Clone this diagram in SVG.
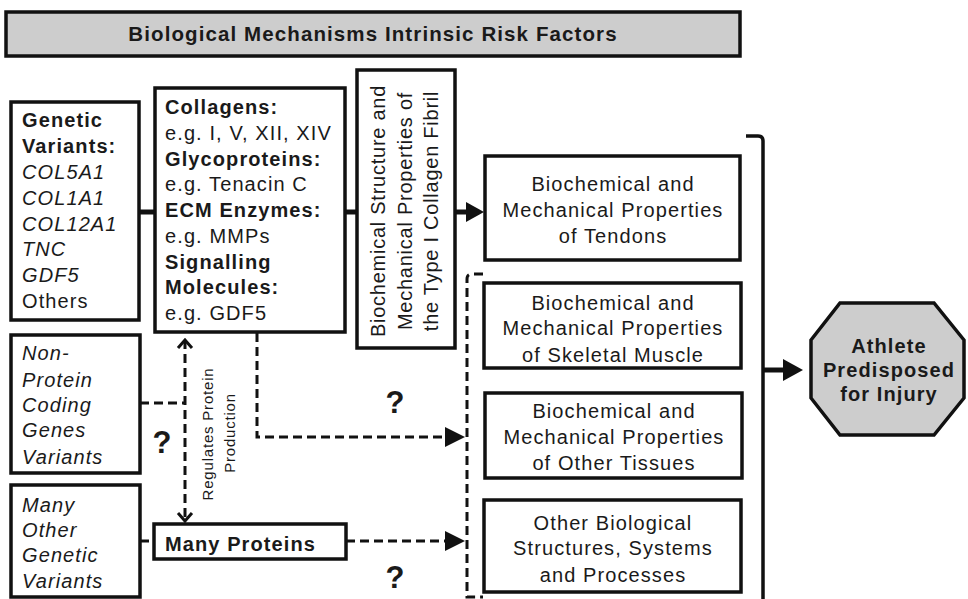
<svg xmlns="http://www.w3.org/2000/svg" width="968" height="599" viewBox="0 0 968 599">
<defs>
<style>
.box{fill:#fff;stroke:#111;stroke-width:3.5}
.gray{fill:#cdcdcd;stroke:#111;stroke-width:3.5}
text{font-family:"Liberation Sans",Arial,Helvetica,sans-serif;font-size:20px;letter-spacing:1.1px;fill:#1a1a1a}
.b{font-weight:bold}
.i{font-style:italic}
.c{text-anchor:middle}
.v{letter-spacing:0.75px}
.s{font-size:15px;letter-spacing:0.8px}
.q{font-size:31px;font-weight:bold;letter-spacing:0;text-anchor:middle}
.solid{stroke:#111;stroke-width:5;fill:none}
.thin{stroke:#111;stroke-width:3.5;fill:none}
.dash{stroke:#111;stroke-width:3;fill:none;stroke-dasharray:9 5}
</style>
<marker id="head" markerUnits="userSpaceOnUse" viewBox="0 0 18 20" markerWidth="18" markerHeight="20" refX="0" refY="10" orient="auto">
<path d="M0,0 L18,10 L0,20 z" fill="#111"/>
</marker>
<marker id="headBig" markerUnits="userSpaceOnUse" viewBox="0 0 20 22" markerWidth="20" markerHeight="22" refX="0" refY="11" orient="auto">
<path d="M0,0 L20,11 L0,22 z" fill="#111"/>
</marker>
<marker id="headDash" markerUnits="userSpaceOnUse" viewBox="0 0 20 20" markerWidth="20" markerHeight="20" refX="0" refY="10" orient="auto">
<path d="M0,0 L20,10 L0,20 z" fill="#111"/>
</marker>
<marker id="chev" markerUnits="userSpaceOnUse" viewBox="-10 -10 12 20" markerWidth="12" markerHeight="20" refX="0" refY="0" orient="auto-start-reverse">
<path d="M-8,-7 L0,0 L-8,7" fill="none" stroke="#111" stroke-width="3"/>
</marker>
</defs>

<g id="connectors">
<line class="solid" x1="139" y1="212" x2="155" y2="212"/>
<line class="solid" x1="345" y1="212" x2="357" y2="212"/>
<line class="solid" x1="455" y1="212" x2="466" y2="212" marker-end="url(#head)"/>
<path class="thin" d="M746,136 H758 Q763,136 763,141 V610"/>
<line class="solid" x1="763" y1="370" x2="783" y2="370" marker-end="url(#headBig)"/>
<path class="dash" d="M483,274 H472 Q467,274 467,279 V597 H483"/>
<path class="dash" d="M257,333 V437 H445" marker-end="url(#headDash)"/>
<path class="dash" d="M346,541 H445" marker-end="url(#headDash)"/>
<path class="dash" d="M140,541 H154"/>
<path class="dash" d="M140,403 H185"/>
<path class="dash" d="M185,340 V521" marker-start="url(#chev)" marker-end="url(#chev)"/>
</g>

<g id="title">
<rect class="gray" x="6" y="12" width="734" height="44"/>
<text class="b c" x="373" y="41" style="font-size:20.5px">Biological Mechanisms Intrinsic Risk Factors</text>
</g>

<g id="genetic-variants">
<rect class="box" x="11" y="102" width="128" height="218"/>
<text class="b" x="22" y="127">Genetic</text>
<text class="b" x="22" y="153">Variants:</text>
<text class="i" x="22" y="179">COL5A1</text>
<text class="i" x="22" y="205">COL1A1</text>
<text class="i" x="22" y="231">COL12A1</text>
<text class="i" x="22" y="256">TNC</text>
<text class="i" x="22" y="282">GDF5</text>
<text x="22" y="308">Others</text>
</g>

<g id="proteins">
<rect class="box" x="155" y="88" width="190" height="244"/>
<text class="b" x="165" y="114">Collagens:</text>
<text x="165" y="140">e.g. I, V, XII, XIV</text>
<text class="b" x="165" y="166">Glycoproteins:</text>
<text x="165" y="191">e.g. Tenacin C</text>
<text class="b" x="165" y="217">ECM Enzymes:</text>
<text x="165" y="243">e.g. MMPs</text>
<text class="b" x="165" y="269">Signalling</text>
<text class="b" x="165" y="294">Molecules:</text>
<text x="165" y="320">e.g. GDF5</text>
</g>

<g id="fibril">
<rect class="box" x="357" y="70" width="98" height="278"/>
<text class="c v" transform="translate(385,211) rotate(-90)">Biochemical Structure and</text>
<text class="c v" transform="translate(411.5,211) rotate(-90)">Mechanical Properties of</text>
<text class="c v" transform="translate(438,211) rotate(-90)">the Type I Collagen Fibril</text>
</g>

<g id="tendons">
<rect class="box" x="485" y="156" width="255" height="104"/>
<text class="c" x="613" y="191">Biochemical and</text>
<text class="c" x="613" y="217">Mechanical Properties</text>
<text class="c" x="613" y="243">of Tendons</text>
</g>

<g id="skeletal-muscle">
<rect class="box" x="484" y="283" width="257" height="85"/>
<text class="c" x="613" y="310">Biochemical and</text>
<text class="c" x="613" y="335">Mechanical Properties</text>
<text class="c" x="613" y="362">of Skeletal Muscle</text>
</g>

<g id="other-tissues">
<rect class="box" x="485" y="393" width="257" height="85"/>
<text class="c" x="614" y="418">Biochemical and</text>
<text class="c" x="614" y="444">Mechanical Properties</text>
<text class="c" x="614" y="470">of Other Tissues</text>
</g>

<g id="other-biological">
<rect class="box" x="484" y="500" width="257" height="92"/>
<text class="c" x="613" y="530">Other Biological</text>
<text class="c" x="613" y="555">Structures, Systems</text>
<text class="c" x="613" y="582">and Processes</text>
</g>

<g id="athlete">
<polygon class="gray" points="840,303 934,303 964,340 964,398 934,435 840,435 811,398 811,340"/>
<text class="b c" x="889" y="353">Athlete</text>
<text class="b c" x="889" y="377">Predisposed</text>
<text class="b c" x="889" y="401">for Injury</text>
</g>

<g id="non-protein">
<rect class="box" x="11" y="335" width="129" height="138"/>
<text class="i" x="22" y="360">Non-</text>
<text class="i" x="22" y="387">Protein</text>
<text class="i" x="22" y="412">Coding</text>
<text class="i" x="22" y="437">Genes</text>
<text class="i" x="22" y="464">Variants</text>
</g>

<g id="many-other">
<rect class="box" x="11" y="485" width="129" height="112"/>
<text class="i" x="22" y="512">Many</text>
<text class="i" x="22" y="537">Other</text>
<text class="i" x="22" y="562">Genetic</text>
<text class="i" x="22" y="588">Variants</text>
</g>

<g id="many-proteins">
<rect class="box" x="154" y="524" width="192" height="35"/>
<text class="b" x="165" y="551">Many Proteins</text>
</g>

<g id="labels">
<text class="s c" transform="translate(213,434) rotate(-90)">Regulates Protein</text>
<text class="s c" transform="translate(235,433) rotate(-90)">Production</text>
<text class="q" x="162" y="453">?</text>
<text class="q" x="395" y="413">?</text>
<text class="q" x="395" y="588">?</text>
</g>
</svg>
